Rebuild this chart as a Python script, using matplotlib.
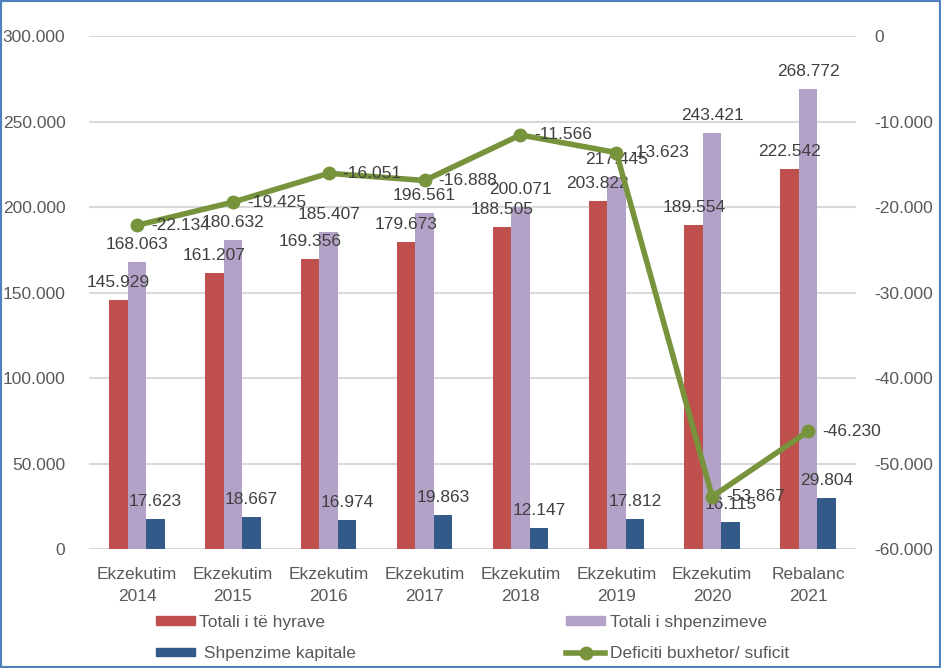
import matplotlib.pyplot as plt
import numpy as np
from matplotlib.patches import Rectangle
from matplotlib.lines import Line2D

plt.rcParams['font.family'] = ['Liberation Sans', 'DejaVu Sans']

categories = ['Ekzekutim\n2014', 'Ekzekutim\n2015', 'Ekzekutim\n2016', 'Ekzekutim\n2017',
              'Ekzekutim\n2018', 'Ekzekutim\n2019', 'Ekzekutim\n2020', 'Rebalanc\n2021']
te_hyrat = [145929, 161207, 169356, 179673, 188505, 203822, 189554, 222542]
shpenzimet = [168063, 180632, 185407, 196561, 200071, 217445, 243421, 268772]
kapitale = [17623, 18667, 16974, 19863, 12147, 17812, 16115, 29804]
deficiti = [-22134, -19425, -16051, -16888, -11566, -13623, -53867, -46230]

left_ticks = [0, 50000, 100000, 150000, 200000, 250000, 300000]
right_ticks = [-60000, -50000, -40000, -30000, -20000, -10000, 0]


def fmt(v):
    s = '{:,}'.format(abs(v)).replace(',', '.')
    return ('-' if v < 0 else '') + s


c_red = '#C0504D'
c_purple = '#B3A2C7'
c_blue = '#345A8A'
c_green = '#77933C'
c_text = '#404040'
c_tick = '#595959'

fig = plt.figure(figsize=(9.41, 6.68), dpi=100)
ax = fig.add_axes([0.0946, 0.178, 0.8151, 0.768])
ax2 = ax.twinx()

x = np.arange(len(categories))
w = 0.193

b1 = ax.bar(x - w, te_hyrat, w, color=c_red, zorder=2)
b2 = ax.bar(x, shpenzimet, w, color=c_purple, zorder=2)
b3 = ax.bar(x + w, kapitale, w, color=c_blue, zorder=2)

for bars, vals in [(b1, te_hyrat), (b2, shpenzimet), (b3, kapitale)]:
    for r, v in zip(bars, vals):
        ax.annotate(fmt(v), (r.get_x() + r.get_width() / 2, v), xytext=(0, 10),
                    textcoords='offset pixels', ha='center', va='bottom',
                    fontsize=12.5, color=c_text, zorder=5)

ax.set_ylim(0, 300000)
ax.set_xlim(-0.5, len(categories) - 0.5)
ax.set_yticks(left_ticks)
ax.set_yticklabels([fmt(t) for t in left_ticks])
ax.set_xticks(x)
ax.set_xticklabels(categories, linespacing=1.6)
ax.yaxis.grid(color='#D9D9D9', linewidth=1.5, zorder=0)
ax.set_axisbelow(True)
for s in ax.spines.values():
    s.set_visible(False)
for s in ax2.spines.values():
    s.set_visible(False)
ax.tick_params(axis='both', length=0, labelsize=12.5, labelcolor=c_tick)
ax.tick_params(axis='y', pad=17)
ax.tick_params(axis='x', pad=13)

ax2.plot(x, deficiti, color=c_green, linewidth=4, marker='o', markersize=9,
         solid_joinstyle='round')
for xi, v in zip(x, deficiti):
    ax2.annotate(fmt(v), (xi, v), xytext=(14, 0), textcoords='offset pixels',
                 ha='left', va='center', fontsize=12.5, color=c_text)
ax2.set_ylim(-60000, 0)
ax2.set_yticks(right_ticks)
ax2.set_yticklabels([fmt(t) for t in right_ticks])
ax2.tick_params(axis='y', length=0, labelsize=12.5, labelcolor=c_tick, pad=13)

handles = [
    Rectangle((0, 0), 1, 1, color=c_red),
    Rectangle((0, 0), 1, 1, color=c_blue),
    Rectangle((0, 0), 1, 1, color=c_purple),
    Line2D([], [], color=c_green, linewidth=4, marker='o', markersize=9),
]
labels = ['Totali i të hyrave', ' Shpenzime kapitale', 'Totali i shpenzimeve',
          'Deficiti buxhetor/ suficit']
fig.legend(handles, labels, ncol=2, loc='upper left', bbox_to_anchor=(0.1658, 0.08),
           frameon=False, fontsize=12.5, labelcolor=c_tick, handlelength=2.25,
           handleheight=0.38, handletextpad=0.25, columnspacing=12.1, labelspacing=0.97,
           borderaxespad=0, borderpad=0)

fig.patches.append(Rectangle((0, 0), 1, 1, transform=fig.transFigure, fill=False,
                             edgecolor='#4F81BD', linewidth=3))

fig.savefig('out.png', dpi=100)
